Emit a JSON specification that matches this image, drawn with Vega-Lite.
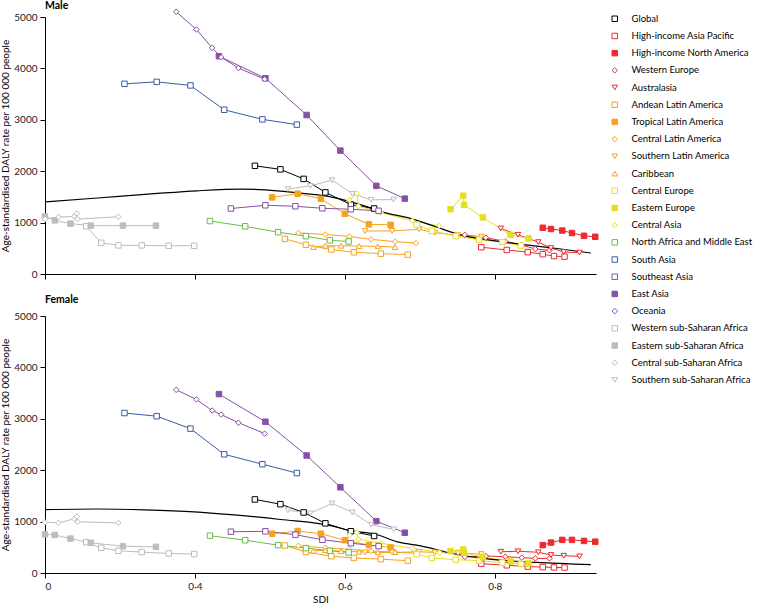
{
  "$schema": "https://vega.github.io/schema/vega-lite/v6.json",
  "padding": {"left": 0, "top": 0, "right": 0, "bottom": 0},
  "datasets": {
    "reg": [
      {"r":"Global","i":1,"s":0.480,"m":2105,"f":1431},{"r":"Global","i":2,"s":0.514,"m":2036,"f":1339},{"r":"Global","i":3,"s":0.545,"m":1850,"f":1178},{"r":"Global","i":4,"s":0.574,"m":1587,"f":966},{"r":"Global","i":5,"s":0.608,"m":1350,"f":813},{"r":"Global","i":6,"s":0.639,"m":1274,"f":720},
      {"r":"High-income Asia Pacific","i":1,"s":0.782,"m":521,"f":182},{"r":"High-income Asia Pacific","i":2,"s":0.816,"m":467,"f":150},{"r":"High-income Asia Pacific","i":3,"s":0.844,"m":425,"f":125},{"r":"High-income Asia Pacific","i":4,"s":0.864,"m":386,"f":115},{"r":"High-income Asia Pacific","i":5,"s":0.879,"m":348,"f":109},{"r":"High-income Asia Pacific","i":6,"s":0.893,"m":338,"f":106},
      {"r":"High-income North America","i":1,"s":0.864,"m":899,"f":542},{"r":"High-income North America","i":2,"s":0.875,"m":876,"f":592},{"r":"High-income North America","i":3,"s":0.890,"m":845,"f":644},{"r":"High-income North America","i":4,"s":0.903,"m":797,"f":644},{"r":"High-income North America","i":5,"s":0.919,"m":743,"f":624},{"r":"High-income North America","i":6,"s":0.934,"m":724,"f":609},
      {"r":"Western Europe","i":1,"s":0.760,"m":761,"f":313},{"r":"Western Europe","i":2,"s":0.788,"m":707,"f":330},{"r":"Western Europe","i":3,"s":0.814,"m":634,"f":317},{"r":"Western Europe","i":4,"s":0.836,"m":563,"f":298},{"r":"Western Europe","i":5,"s":0.854,"m":486,"f":284},{"r":"Western Europe","i":6,"s":0.873,"m":461,"f":284},
      {"r":"Australasia","i":1,"s":0.808,"m":886,"f":413},{"r":"Australasia","i":2,"s":0.831,"m":763,"f":423},{"r":"Australasia","i":3,"s":0.858,"m":620,"f":403},{"r":"Australasia","i":4,"s":0.875,"m":505,"f":350},{"r":"Australasia","i":5,"s":0.892,"m":428,"f":336},{"r":"Australasia","i":6,"s":0.913,"m":415,"f":323},
      {"r":"Andean Latin America","i":1,"s":0.520,"m":684,"f":534},{"r":"Andean Latin America","i":2,"s":0.548,"m":569,"f":407},{"r":"Andean Latin America","i":3,"s":0.582,"m":476,"f":327},{"r":"Andean Latin America","i":4,"s":0.612,"m":423,"f":292},{"r":"Andean Latin America","i":5,"s":0.648,"m":396,"f":269},{"r":"Andean Latin America","i":6,"s":0.684,"m":377,"f":240},
      {"r":"Tropical Latin America","i":1,"s":0.503,"m":1491,"f":765},{"r":"Tropical Latin America","i":2,"s":0.537,"m":1562,"f":816},{"r":"Tropical Latin America","i":3,"s":0.568,"m":1462,"f":765},{"r":"Tropical Latin America","i":4,"s":0.600,"m":1172,"f":638},{"r":"Tropical Latin America","i":5,"s":0.632,"m":966,"f":542},{"r":"Tropical Latin America","i":6,"s":0.661,"m":957,"f":496},
      {"r":"Central Latin America","i":1,"s":0.538,"m":799,"f":528},{"r":"Central Latin America","i":2,"s":0.574,"m":770,"f":490},{"r":"Central Latin America","i":3,"s":0.606,"m":730,"f":461},{"r":"Central Latin America","i":4,"s":0.635,"m":674,"f":428},{"r":"Central Latin America","i":5,"s":0.667,"m":630,"f":403},{"r":"Central Latin America","i":6,"s":0.695,"m":601,"f":384},
      {"r":"Southern Latin America","i":1,"s":0.627,"m":836,"f":400},{"r":"Southern Latin America","i":2,"s":0.663,"m":838,"f":400},{"r":"Southern Latin America","i":3,"s":0.699,"m":870,"f":413},{"r":"Southern Latin America","i":4,"s":0.720,"m":803,"f":400},{"r":"Southern Latin America","i":5,"s":0.751,"m":755,"f":384},{"r":"Southern Latin America","i":6,"s":0.782,"m":726,"f":369},
      {"r":"Caribbean","i":1,"s":0.558,"m":524,"f":432},{"r":"Caribbean","i":2,"s":0.574,"m":549,"f":442},{"r":"Caribbean","i":3,"s":0.595,"m":549,"f":423},{"r":"Caribbean","i":4,"s":0.619,"m":544,"f":413},{"r":"Caribbean","i":5,"s":0.644,"m":538,"f":403},{"r":"Caribbean","i":6,"s":0.667,"m":524,"f":407},
      {"r":"Central Europe","i":1,"s":0.696,"m":961,"f":365},{"r":"Central Europe","i":2,"s":0.716,"m":841,"f":292},{"r":"Central Europe","i":3,"s":0.748,"m":736,"f":259},{"r":"Central Europe","i":4,"s":0.779,"m":668,"f":240},{"r":"Central Europe","i":5,"s":0.810,"m":620,"f":202},{"r":"Central Europe","i":6,"s":0.835,"m":553,"f":177},
      {"r":"Eastern Europe","i":1,"s":0.741,"m":1260,"f":426},{"r":"Eastern Europe","i":2,"s":0.758,"m":1523,"f":457},{"r":"Eastern Europe","i":3,"s":0.759,"m":1345,"f":394},{"r":"Eastern Europe","i":4,"s":0.784,"m":1101,"f":307},{"r":"Eastern Europe","i":5,"s":0.821,"m":761,"f":225},{"r":"Eastern Europe","i":6,"s":0.845,"m":692,"f":186},
      {"r":"Central Asia","i":1,"s":0.606,"m":1437,"f":734},{"r":"Central Asia","i":2,"s":0.616,"m":1566,"f":791},{"r":"Central Asia","i":3,"s":0.618,"m":1322,"f":657},{"r":"Central Asia","i":4,"s":0.648,"m":1197,"f":580},{"r":"Central Asia","i":5,"s":0.690,"m":1034,"f":480},{"r":"Central Asia","i":6,"s":0.726,"m":937,"f":400},
      {"r":"North Africa and Middle East","i":1,"s":0.420,"m":1030,"f":726},{"r":"North Africa and Middle East","i":2,"s":0.467,"m":928,"f":638},{"r":"North Africa and Middle East","i":3,"s":0.511,"m":813,"f":542},{"r":"North Africa and Middle East","i":4,"s":0.548,"m":736,"f":484},{"r":"North Africa and Middle East","i":5,"s":0.580,"m":655,"f":432},{"r":"North Africa and Middle East","i":6,"s":0.605,"m":634,"f":400},
      {"r":"South Asia","i":1,"s":0.306,"m":3700,"f":3112},{"r":"South Asia","i":2,"s":0.349,"m":3738,"f":3051},{"r":"South Asia","i":3,"s":0.394,"m":3669,"f":2809},{"r":"South Asia","i":4,"s":0.439,"m":3195,"f":2309},{"r":"South Asia","i":5,"s":0.490,"m":3008,"f":2117},{"r":"South Asia","i":6,"s":0.536,"m":2906,"f":1944},
      {"r":"Southeast Asia","i":1,"s":0.448,"m":1274,"f":803},{"r":"Southeast Asia","i":2,"s":0.494,"m":1337,"f":811},{"r":"Southeast Asia","i":3,"s":0.534,"m":1318,"f":745},{"r":"Southeast Asia","i":4,"s":0.570,"m":1279,"f":647},{"r":"Southeast Asia","i":5,"s":0.608,"m":1260,"f":580},{"r":"Southeast Asia","i":6,"s":0.645,"m":1229,"f":523},
      {"r":"East Asia","i":1,"s":0.432,"m":4238,"f":3481},{"r":"East Asia","i":2,"s":0.494,"m":3809,"f":2943},{"r":"East Asia","i":3,"s":0.549,"m":3093,"f":2286},{"r":"East Asia","i":4,"s":0.594,"m":2401,"f":1667},{"r":"East Asia","i":5,"s":0.642,"m":1715,"f":1009},{"r":"East Asia","i":6,"s":0.680,"m":1466,"f":784},
      {"r":"Oceania","i":1,"s":0.375,"m":5102,"f":3564},{"r":"Oceania","i":2,"s":0.402,"m":4756,"f":3377},{"r":"Oceania","i":3,"s":0.423,"m":4399,"f":3160},{"r":"Oceania","i":4,"s":0.435,"m":4218,"f":3083},{"r":"Oceania","i":5,"s":0.458,"m":4007,"f":2924},{"r":"Oceania","i":6,"s":0.493,"m":3790,"f":2712},
      {"r":"Western sub-Saharan Africa","i":1,"s":0.255,"m":928,"f":599},{"r":"Western sub-Saharan Africa","i":2,"s":0.275,"m":607,"f":490},{"r":"Western sub-Saharan Africa","i":3,"s":0.298,"m":557,"f":432},{"r":"Western sub-Saharan Africa","i":4,"s":0.329,"m":557,"f":407},{"r":"Western sub-Saharan Africa","i":5,"s":0.365,"m":549,"f":380},{"r":"Western sub-Saharan Africa","i":6,"s":0.399,"m":549,"f":369},
      {"r":"Eastern sub-Saharan Africa","i":1,"s":0.200,"m":1120,"f":753},{"r":"Eastern sub-Saharan Africa","i":2,"s":0.213,"m":1043,"f":740},{"r":"Eastern sub-Saharan Africa","i":3,"s":0.234,"m":980,"f":669},{"r":"Eastern sub-Saharan Africa","i":4,"s":0.261,"m":941,"f":586},{"r":"Eastern sub-Saharan Africa","i":5,"s":0.304,"m":941,"f":522},{"r":"Eastern sub-Saharan Africa","i":6,"s":0.348,"m":941,"f":509},
      {"r":"Central sub-Saharan Africa","i":1,"s":0.200,"m":1068,"f":989},{"r":"Central sub-Saharan Africa","i":2,"s":0.218,"m":1107,"f":976},{"r":"Central sub-Saharan Africa","i":3,"s":0.239,"m":1120,"f":1053},{"r":"Central sub-Saharan Africa","i":4,"s":0.2425,"m":1178,"f":1099},{"r":"Central sub-Saharan Africa","i":5,"s":0.2435,"m":1068,"f":995},{"r":"Central sub-Saharan Africa","i":6,"s":0.298,"m":1114,"f":976},
      {"r":"Southern sub-Saharan Africa","i":1,"s":0.524,"m":1652,"f":1220},{"r":"Southern sub-Saharan Africa","i":2,"s":0.554,"m":1715,"f":1162},{"r":"Southern sub-Saharan Africa","i":3,"s":0.583,"m":1825,"f":1354},{"r":"Southern sub-Saharan Africa","i":4,"s":0.610,"m":1562,"f":1181},{"r":"Southern sub-Saharan Africa","i":5,"s":0.635,"m":1443,"f":941},{"r":"Southern sub-Saharan Africa","i":6,"s":0.665,"m":1448,"f":849}
    ],
    "exp": [
      {"sex":"m","s":0.200,"v":1402},{"sex":"m","s":0.270,"v":1479},{"sex":"m","s":0.350,"v":1568},{"sex":"m","s":0.403,"v":1619},{"sex":"m","s":0.463,"v":1652},{"sex":"m","s":0.510,"v":1619},{"sex":"m","s":0.536,"v":1581},{"sex":"m","s":0.576,"v":1514},{"sex":"m","s":0.616,"v":1370},{"sex":"m","s":0.656,"v":1183},{"sex":"m","s":0.687,"v":1082},{"sex":"m","s":0.723,"v":909},{"sex":"m","s":0.754,"v":761},{"sex":"m","s":0.803,"v":640},{"sex":"m","s":0.847,"v":557},{"sex":"m","s":0.883,"v":496},{"sex":"m","s":0.928,"v":409},
      {"sex":"f","s":0.200,"v":1233},{"sex":"f","s":0.270,"v":1245},{"sex":"f","s":0.333,"v":1229},{"sex":"f","s":0.399,"v":1191},{"sex":"f","s":0.448,"v":1137},{"sex":"f","s":0.514,"v":1041},{"sex":"f","s":0.581,"v":922},{"sex":"f","s":0.603,"v":836},{"sex":"f","s":0.643,"v":745},{"sex":"f","s":0.670,"v":605},{"sex":"f","s":0.701,"v":528},{"sex":"f","s":0.745,"v":375},{"sex":"f","s":0.790,"v":273},{"sex":"f","s":0.856,"v":207},{"sex":"f","s":0.928,"v":163}
    ]
  },
  "spacing": 14,
  "vconcat": [
    {
      "title": {"text": "Male", "offset": -4},
      "width": 551,
      "height": 257,
      "layer": [
        {
          "data": {"name": "reg"},
          "mark": {"type": "line", "strokeWidth": 1},
          "encoding": {
            "x": {"field": "s", "type": "quantitative", "scale": {"domain": [0.2, 0.935], "nice": false, "zero": false}, "axis": {"values": [0.2, 0.4, 0.6, 0.8], "labels": false, "title": null}},
            "y": {"field": "m", "type": "quantitative", "scale": {"domain": [0, 5000], "nice": false}, "axis": {"values": [0, 1000, 2000, 3000, 4000, 5000], "format": "d", "title": "Age-standardised DALY rate per 100 000 people"}},
            "stroke": {"field": "r", "type": "nominal", "legend": {"title": null},
              "scale": {"domain": ["Global","High-income Asia Pacific","High-income North America","Western Europe","Australasia","Andean Latin America","Tropical Latin America","Central Latin America","Southern Latin America","Caribbean","Central Europe","Eastern Europe","Central Asia","North Africa and Middle East","South Asia","Southeast Asia","East Asia","Oceania","Western sub-Saharan Africa","Eastern sub-Saharan Africa","Central sub-Saharan Africa","Southern sub-Saharan Africa"],
                "range": ["#000000","#ec2a30","#ec2a30","#ec2a30","#ec2a30","#f7a21e","#f7a21e","#f7a21e","#f7a21e","#f7a21e","#e6df1c","#e6df1c","#e6df1c","#6abd45","#3a5ca8","#8651a4","#8651a4","#8651a4","#bdbdbd","#bdbdbd","#bdbdbd","#bdbdbd"]}},
            "order": {"field": "i"}
          }
        },
        {
          "data": {"name": "exp"},
          "transform": [{"filter": "datum.sex == 'm'"}],
          "mark": {"type": "line", "color": "#000000", "strokeWidth": 1.2, "interpolate": "monotone"},
          "encoding": {
            "x": {"field": "s", "type": "quantitative"},
            "y": {"field": "v", "type": "quantitative"}
          }
        },
        {
          "data": {"name": "reg"},
          "mark": {"type": "point", "size": 30, "strokeWidth": 1, "opacity": 1},
          "encoding": {
            "x": {"field": "s", "type": "quantitative"},
            "y": {"field": "m", "type": "quantitative"},
            "stroke": {"field": "r", "type": "nominal", "legend": {"title": null}},
            "fill": {"field": "r", "type": "nominal", "legend": {"title": null},
              "scale": {"domain": ["Global","High-income Asia Pacific","High-income North America","Western Europe","Australasia","Andean Latin America","Tropical Latin America","Central Latin America","Southern Latin America","Caribbean","Central Europe","Eastern Europe","Central Asia","North Africa and Middle East","South Asia","Southeast Asia","East Asia","Oceania","Western sub-Saharan Africa","Eastern sub-Saharan Africa","Central sub-Saharan Africa","Southern sub-Saharan Africa"],
                "range": ["#ffffff","#ffffff","#ec2a30","#ffffff","#ffffff","#ffffff","#f7a21e","#ffffff","#ffffff","#ffffff","#ffffff","#e6df1c","#ffffff","#ffffff","#ffffff","#ffffff","#8651a4","#ffffff","#ffffff","#bdbdbd","#ffffff","#ffffff"]}},
            "shape": {"field": "r", "type": "nominal", "legend": {"title": null},
              "scale": {"domain": ["Global","High-income Asia Pacific","High-income North America","Western Europe","Australasia","Andean Latin America","Tropical Latin America","Central Latin America","Southern Latin America","Caribbean","Central Europe","Eastern Europe","Central Asia","North Africa and Middle East","South Asia","Southeast Asia","East Asia","Oceania","Western sub-Saharan Africa","Eastern sub-Saharan Africa","Central sub-Saharan Africa","Southern sub-Saharan Africa"],
                "range": ["square","square","square","diamond","triangle-down","square","square","diamond","triangle-down","triangle-up","square","square","diamond","square","square","square","square","diamond","square","square","diamond","triangle-down"]}}
          }
        }
      ]
    },
    {
      "title": {"text": "Female", "offset": 6},
      "width": 551,
      "height": 257,
      "layer": [
        {
          "data": {"name": "reg"},
          "mark": {"type": "line", "strokeWidth": 1},
          "encoding": {
            "x": {"field": "s", "type": "quantitative", "scale": {"domain": [0.2, 0.935], "nice": false, "zero": false}, "axis": {"values": [0.2, 0.4, 0.6, 0.8], "title": "SDI", "labelExpr": "datum.value < 0.3 ? '0' : replace(format(datum.value, '.1f'), '.', '·')"}},
            "y": {"field": "f", "type": "quantitative", "scale": {"domain": [0, 5000], "nice": false}, "axis": {"values": [0, 1000, 2000, 3000, 4000, 5000], "format": "d", "title": "Age-standardised DALY rate per 100 000 people"}},
            "stroke": {"field": "r", "type": "nominal", "legend": {"title": null}},
            "order": {"field": "i"}
          }
        },
        {
          "data": {"name": "exp"},
          "transform": [{"filter": "datum.sex == 'f'"}],
          "mark": {"type": "line", "color": "#000000", "strokeWidth": 1.2, "interpolate": "monotone"},
          "encoding": {
            "x": {"field": "s", "type": "quantitative"},
            "y": {"field": "v", "type": "quantitative"}
          }
        },
        {
          "data": {"name": "reg"},
          "mark": {"type": "point", "size": 30, "strokeWidth": 1, "opacity": 1},
          "encoding": {
            "x": {"field": "s", "type": "quantitative"},
            "y": {"field": "f", "type": "quantitative"},
            "stroke": {"field": "r", "type": "nominal", "legend": {"title": null}},
            "fill": {"field": "r", "type": "nominal", "legend": {"title": null}},
            "shape": {"field": "r", "type": "nominal", "legend": {"title": null}}
          }
        }
      ]
    }
  ],
  "resolve": {"scale": {"stroke": "shared", "fill": "shared", "shape": "shared"}},
  "config": {
    "font": "Lato",
    "view": {"stroke": null},
    "title": {"anchor": "start", "frame": "group", "fontSize": 10.5, "fontWeight": "bold", "color": "#000000", "font": "Lato"},
    "axis": {"grid": false, "domainColor": "#000000", "tickColor": "#000000", "labelColor": "#222222", "titleColor": "#000000", "labelFont": "Lato", "titleFont": "Lato", "labelFontSize": 10, "titleFontSize": 10, "titleFontWeight": "normal", "tickSize": 5, "labelPadding": 3, "titlePadding": 3, "domainWidth": 1, "tickWidth": 1},
    "legend": {"orient": "none", "legendX": 565, "legendY": -3, "labelFont": "Lato", "labelFontSize": 9.5, "labelColor": "#000000", "symbolSize": 30, "symbolStrokeWidth": 1, "rowPadding": 6.2, "labelOffset": 12, "padding": 0, "labelLimit": 200}
  }
}
